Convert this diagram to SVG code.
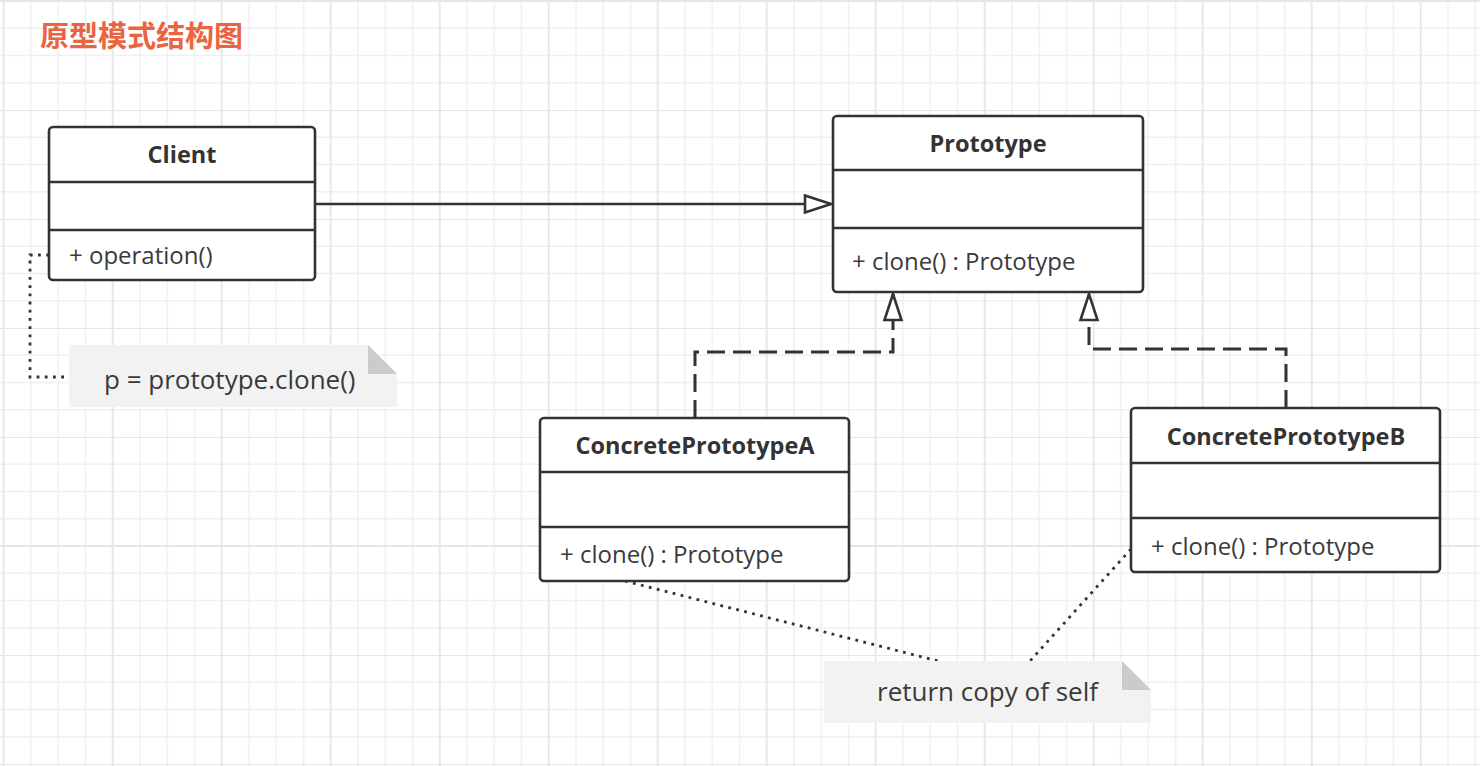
<svg xmlns="http://www.w3.org/2000/svg" width="1480" height="766" viewBox="0 0 1480 766">
<defs>
  <pattern id="grid" patternUnits="userSpaceOnUse" x="2.7" y="0" width="109" height="109">
    <path d="M28.25,0 V109 M55.5,0 V109 M82.75,0 V109 M0,28.25 H109 M0,55.5 H109 M0,82.75 H109" stroke="#f0f0f0" stroke-width="1.5" fill="none"/>
    <path d="M1,0 V109 M0,1 H109" stroke="#e6e6e6" stroke-width="1.8" fill="none"/>
  </pattern>
  <marker id="tri" markerUnits="userSpaceOnUse" markerWidth="32" markerHeight="24" refX="28" refY="10" orient="auto" viewBox="-2 -2 32 24">
    <path d="M2,1.5 L28,10 L2,18.5 Z" fill="#ffffff" stroke="#333333" stroke-width="2.6" stroke-dasharray="none" stroke-linejoin="miter"/>
  </marker>
  <style>
    .box { fill:#ffffff; stroke:#333333; stroke-width:2.6; }
    .div { stroke:#333333; stroke-width:2.6; }
    .title { font-family:"Open Sans","Noto Sans",sans-serif; font-weight:bold; font-size:23.5px; fill:#333333; text-anchor:middle; }
    .meth { font-family:"Open Sans","Noto Sans",sans-serif; font-size:24px; fill:#3a3a3a; }
    .solid { fill:none; stroke:#333333; stroke-width:2.6; }
    .dash { fill:none; stroke:#333333; stroke-width:3; stroke-dasharray:18 8; }
    .dot { fill:none; stroke:#333333; stroke-width:2.8; stroke-dasharray:2.8 5.4; }
    .note { fill:#f2f2f2; }
    .fold { fill:#cbcbcb; }
    .ntext { font-family:"Open Sans","Noto Sans",sans-serif; font-size:26px; fill:#3a3a3a; }
  </style>
</defs>
<rect width="1480" height="766" fill="#ffffff"/>
<rect width="1480" height="766" fill="url(#grid)"/>
<text x="40" y="47" font-family="'Noto Sans CJK SC',sans-serif" font-weight="bold" font-size="29" fill="#e9643f">原型模式结构图</text>

<g id="connectors">
  <path class="solid" d="M315,204 H831" marker-end="url(#tri)"/>
  <path class="dash" d="M695,418 V352 H893 V294" marker-end="url(#tri)"/>
  <path class="dash" d="M1286,408 V349 H1089 V294" marker-end="url(#tri)"/>
  <path class="dot" d="M49,255 H30 V377 H69"/>
  <path class="dot" d="M625,581 L938,661"/>
  <path class="dot" d="M1131,549 L1030,661"/>
</g>

<g id="client">
  <rect class="box" x="49" y="127" width="266" height="153" rx="4"/>
  <line class="div" x1="49" y1="182" x2="315" y2="182"/>
  <line class="div" x1="49" y1="230" x2="315" y2="230"/>
  <text class="title" x="182" y="163">Client</text>
  <text class="meth" x="69" y="264">+ operation()</text>
</g>

<g id="prototype">
  <rect class="box" x="833" y="116" width="310" height="176" rx="4"/>
  <line class="div" x1="833" y1="170" x2="1143" y2="170"/>
  <line class="div" x1="833" y1="228" x2="1143" y2="228"/>
  <text class="title" x="988" y="152">Prototype</text>
  <text class="meth" x="852" y="270">+ clone() : Prototype</text>
</g>

<g id="concreteA">
  <rect class="box" x="540" y="418" width="309" height="163" rx="4"/>
  <line class="div" x1="540" y1="472" x2="849" y2="472"/>
  <line class="div" x1="540" y1="527" x2="849" y2="527"/>
  <text class="title" x="695" y="454">ConcretePrototypeA</text>
  <text class="meth" x="560" y="563">+ clone() : Prototype</text>
</g>

<g id="concreteB">
  <rect class="box" x="1131" y="408" width="309" height="164" rx="4"/>
  <line class="div" x1="1131" y1="463" x2="1440" y2="463"/>
  <line class="div" x1="1131" y1="518" x2="1440" y2="518"/>
  <text class="title" x="1286" y="445">ConcretePrototypeB</text>
  <text class="meth" x="1151" y="555">+ clone() : Prototype</text>
</g>

<g id="note-client">
  <path class="note" d="M69,345 H368 L397,374 V407 H69 Z"/>
  <path class="fold" d="M368,345 V374 H397 Z"/>
  <text class="ntext" x="104" y="389">p = prototype.clone()</text>
</g>

<g id="note-copy">
  <path class="note" d="M824,661 H1122 L1151,690 V723 H824 Z"/>
  <path class="fold" d="M1122,661 V690 H1151 Z"/>
  <text class="ntext" x="877" y="701">return copy of self</text>
</g>
</svg>
